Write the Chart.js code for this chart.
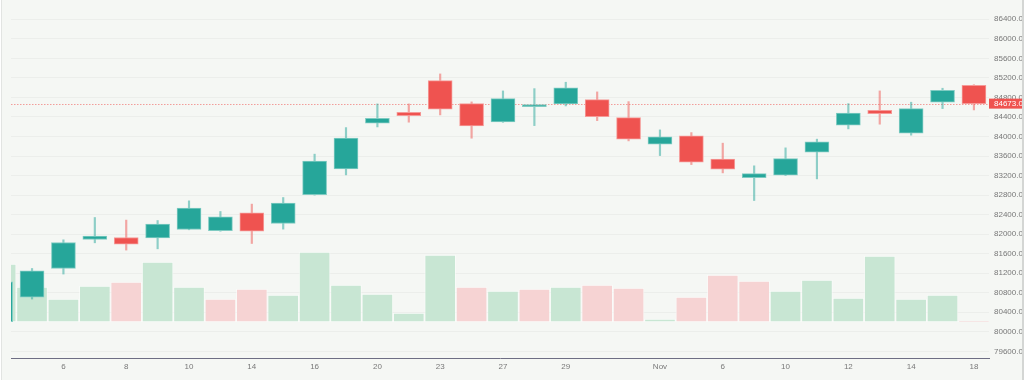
<!DOCTYPE html>
<html>
<head>
<meta charset="utf-8">
<script src="https://cdn.jsdelivr.net/npm/chart.js@4.4.1/dist/chart.umd.min.js"></script>
<style>
  html, body { margin: 0; padding: 0; background: #ffffff; }
  #wrap { position: absolute; left: 1px; top: 0; width: 1020px; height: 380px; overflow: hidden;
          border-left: 1px solid #e2e4e2; border-right: 2px solid #d4d6d4; background: #f5f7f4; }
  canvas { display: block; }
</style>
</head>
<body>
<div id="wrap"><canvas id="c" width="1040" height="380"></canvas></div>
<script>
// ---- data ----
const categories = ['2','3','6','7','8','9','10','13','14','15','16','17','20','22','23','24','27','28','29','30','31','Nov','5','6','7','10','11','12','13','14','17','18'];
const shownTickIdx = [2,4,6,8,10,12,14,16,18,21,23,25,27,29,31];
const opens  = [80207,80712,81297,81891,81932,81925,82095,82069,82437,82218,82811,83337,84272,84497,85144,84673,84299,84612,84667,84755,84387,83842,84012,83536,83159,83208,83679,84231,84538,84068,84702,85050];
const highs  = [81100,81297,81884,82341,82288,82279,82682,82464,82615,82750,83638,84182,84667,84667,85281,84708,84933,84980,85111,84913,84714,84135,84080,83863,83399,83767,83945,84673,84933,84702,84988,85060];
const lows   = [80150,80671,81183,81823,81674,81700,82090,82060,81809,82103,82800,83214,84196,84293,84442,83965,84290,84223,84626,84325,83910,83609,83425,83255,82689,83200,83132,84156,84252,84027,84571,84544];
const closes = [81025,81250,81829,81960,81797,82206,82533,82355,82062,82635,83495,83965,84374,84428,84559,84217,84776,84653,84994,84407,83945,83992,83474,83331,83241,83548,83890,84477,84469,84571,84947,84673.02];
const volumes = [58,35,23,36,40,60,35,23,33,27,70,37,28,9,67,35,31,33,35,37,34,3,25,47,41,31,42,24,66,23,27,1];
const volumeUp = [1,1,1,1,0,1,1,0,0,1,1,1,1,1,1,0,1,0,1,0,0,1,0,0,0,1,1,1,1,1,1,0];
const yTickValues = [79600,80000,80400,80800,81200,81600,82000,82400,82800,83200,83600,84000,84400,84800,85200,85600,86000,86400];
const lastPrice = 84673.02;

// ---- colours ----
const UP = '#26a69a', DOWN = '#ef5350';
const UP_EDGE = '#7fcbc2', DOWN_EDGE = '#f59a98';
const UP_WICK = 'rgba(38,166,154,0.5)', DOWN_WICK = 'rgba(239,83,80,0.5)';
const VOL_UP = '#c8e6d3', VOL_DOWN = '#f6d3d3';

const idx = categories.map((_, i) => i);
const isUp = idx.map(i => closes[i] >= opens[i]);

const bodyData = idx.map(i => ({x: i, y: [opens[i], closes[i]]}));
const wickData = idx.map(i => ({x: i, y: [lows[i], highs[i]]}));
const volData  = idx.map(i => ({x: i, y: volumes[i]}));

const FONT = {family: "'Liberation Sans', Arial, sans-serif", size: 8};
const noPad = s => { s.paddingTop = 0; s.paddingBottom = 0; s.paddingLeft = 0; s.paddingRight = 0; };

const priceLine = {
  id: 'priceLine',
  beforeDatasetsDraw(chart) {
    const {ctx, chartArea, scales} = chart;
    const y = Math.round(scales.y.getPixelForValue(lastPrice)) + 0.5;
    ctx.save();
    ctx.beginPath();
    ctx.rect(chartArea.left, chartArea.top, chartArea.right - chartArea.left, chartArea.bottom - chartArea.top);
    ctx.clip();
    ctx.strokeStyle = 'rgba(239,83,80,0.55)';
    ctx.lineWidth = 1;
    ctx.setLineDash([1.5, 1.5]);
    ctx.beginPath();
    ctx.moveTo(chartArea.left, y);
    ctx.lineTo(chartArea.right, y);
    ctx.stroke();
    ctx.restore();
  },
  afterDraw(chart) {
    const {ctx, chartArea, scales, width} = chart;
    const y = scales.y.getPixelForValue(lastPrice);
    ctx.save();
    ctx.fillStyle = DOWN;
    ctx.fillRect(chartArea.right, y - 5, width - chartArea.right, 10);
    ctx.fillStyle = '#ffffff';
    ctx.font = "8px 'Liberation Sans', Arial, sans-serif";
    ctx.textBaseline = 'middle';
    ctx.textAlign = 'left';
    ctx.fillText(lastPrice.toFixed(2), chartArea.right + 5, y + 0.5);
    ctx.restore();
  }
};

new Chart(document.getElementById('c'), {
  type: 'bar',
  data: {
    datasets: [
      {
        label: 'body', data: bodyData, xAxisID: 'x', yAxisID: 'y', order: 0,
        grouped: false, barThickness: 24, borderSkipped: false, borderWidth: 1,
        backgroundColor: idx.map(i => isUp[i] ? UP : DOWN),
        borderColor: idx.map(i => isUp[i] ? UP_EDGE : DOWN_EDGE)
      },
      {
        label: 'wick', data: wickData, xAxisID: 'x', yAxisID: 'y', order: 1,
        grouped: false, barThickness: 1.5, borderSkipped: false, borderWidth: 0,
        backgroundColor: idx.map(i => isUp[i] ? UP_WICK : DOWN_WICK)
      },
      {
        label: 'volume', data: volData, xAxisID: 'x', yAxisID: 'yv', order: 2,
        grouped: false, barThickness: 31, borderSkipped: false, borderWidth: 1,
        backgroundColor: idx.map(i => volumeUp[i] ? VOL_UP : VOL_DOWN),
        borderColor: 'rgba(255,255,255,0.45)'
      }
    ]
  },
  options: {
    responsive: false,
    animation: false,
    devicePixelRatio: 1,
    layout: {padding: {left: 9, right: 0, top: 0, bottom: 0}},
    plugins: {legend: {display: false}, tooltip: {enabled: false}},
    scales: {
      x: {
        type: 'linear', position: 'bottom', min: 0.33, max: 31.48, offset: false,
        grid: {display: false, drawTicks: false, offset: false},
        border: {display: true, color: '#6e6e84', width: 1},
        afterBuildTicks: s => { s.ticks = shownTickIdx.map(v => ({value: v})); },
        afterFit: s => { s.height = 22; noPad(s); },
        ticks: {
          font: FONT, color: '#787878', padding: 4, maxRotation: 0, autoSkip: false,
          callback: v => categories[v] !== undefined ? categories[v] : ''
        }
      },
      y: {
        type: 'linear', position: 'right', min: 79464, max: 86795,
        grid: {color: 'rgba(0,0,0,0.035)', drawTicks: false, lineWidth: 1},
        border: {display: false},
        afterBuildTicks: s => { s.ticks = yTickValues.map(v => ({value: v})); },
        afterFit: s => { s.width = 53; noPad(s); },
        ticks: {font: FONT, color: '#787878', padding: 5, callback: v => Number(v).toFixed(2)}
      },
      yv: {
        type: 'linear', display: false, min: -36, max: 322,
        afterFit: s => { noPad(s); }
      }
    }
  },
  plugins: [priceLine]
});
</script>
</body>
</html>
